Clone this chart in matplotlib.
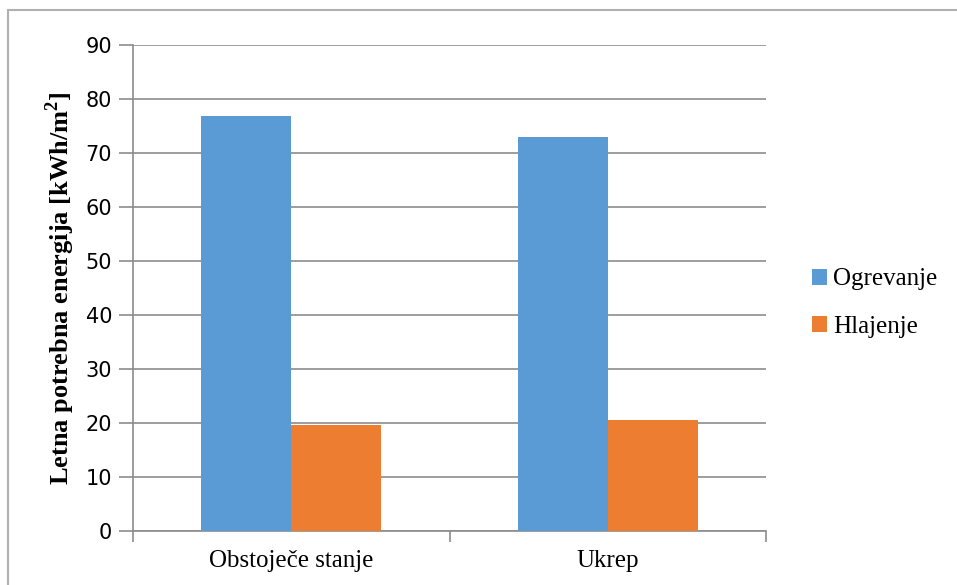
import matplotlib.pyplot as plt
import numpy as np
from matplotlib.patches import Rectangle

# data
categories = ['Obstoječe stanje', 'Ukrep']
series = ['Ogrevanje', 'Hlajenje']
ogrevanje = [76.8, 73.0]
hlajenje = [19.6, 20.5]
colors = ['#5b9bd5', '#ed7d31']
yticks = [0, 10, 20, 30, 40, 50, 60, 70, 80, 90]

fig = plt.figure(figsize=(9.57, 5.85), dpi=100)
ax = fig.add_axes([133/957, 1 - 531/585, (766 - 133)/957, (531 - 45)/585])

# outer chart frame
fig.patches.append(Rectangle((8/957, -0.05), 1.0, 1 - 10/585 + 0.05,
                             transform=fig.transFigure, fill=False,
                             edgecolor='#b0b0b0', linewidth=1.5))

x = np.arange(len(categories))
w = 0.285
ax.bar(x - w/2, ogrevanje, w, color=colors[0], label=series[0], zorder=3)
ax.bar(x + w/2, hlajenje, w, color=colors[1], label=series[1], zorder=3)

ax.set_xlim(-0.5, 1.5)
ax.set_ylim(0, 90)
ax.set_yticks(yticks)
ax.yaxis.grid(True, color='#8c8c8c', linewidth=1.2, zorder=0)
ax.set_axisbelow(True)

ax.set_xticks(x)
ax.set_xticklabels(categories, fontsize=18, family='Liberation Serif')
ax.tick_params(axis='x', length=0, pad=14)
# minor ticks at category boundaries
ax.set_xticks([-0.5, 0.5, 1.5], minor=True)
ax.tick_params(axis='x', which='minor', length=8, color='#8c8c8c', width=1.2)
ax.tick_params(axis='y', length=10, color='#8c8c8c', width=1.2, labelsize=15, pad=5)
for lab in ax.get_yticklabels():
    lab.set_family('DejaVu Sans')

for s in ['top', 'right']:
    ax.spines[s].set_visible(False)
ax.spines['left'].set_color('#8c8c8c')
ax.spines['left'].set_linewidth(1.2)
ax.spines['bottom'].set_color('#8c8c8c')
ax.spines['bottom'].set_linewidth(1.2)

ax.set_ylabel('Letna potrebna energija [kWh/m$^\\mathregular{2}$]', fontsize=19,
              family='Liberation Serif', fontweight='bold', labelpad=6)

leg = fig.legend(loc='center left', bbox_to_anchor=(789/957, 1 - 303/585),
                 frameon=False, prop={'family': 'Liberation Serif', 'size': 18},
                 handlelength=0.6, handleheight=0.6, handletextpad=0.25,
                 labelspacing=1.0)

fig.savefig('out.png', dpi=100)
